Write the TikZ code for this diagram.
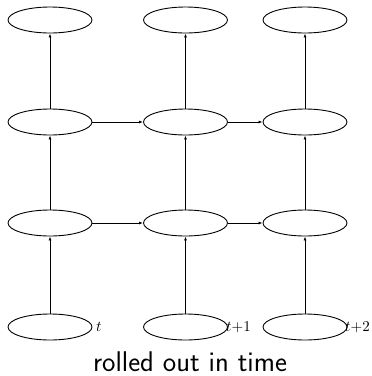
\documentclass[tikz,border=0pt]{standalone}
\usetikzlibrary{shapes.geometric,arrows.meta}
\begin{document}
\begin{tikzpicture}[x=1pt,y=-1pt,
  cell/.style={draw,ellipse,line width=0.9pt,minimum width=84pt,minimum height=26pt,inner sep=0pt},
  conn/.style={-{Latex[length=4pt,width=3pt]},line width=0.9pt},
  lab/.style={inner sep=0pt,anchor=west}]
\useasboundingbox (0,0) rectangle (372,376);
\node[cell] (a1) at (50,20) {};
\node[cell] (b1) at (185.5,20) {};
\node[cell] (c1) at (305,20) {};
\node[cell] (a2) at (50,122) {};
\node[cell] (b2) at (185.5,122) {};
\node[cell] (c2) at (305,122) {};
\node[cell] (a3) at (50,223) {};
\node[cell] (b3) at (185.5,223) {};
\node[cell] (c3) at (305,223) {};
\node[cell] (a4) at (50,327) {};
\node[cell] (b4) at (185.5,327) {};
\node[cell] (c4) at (305,327) {};
\node[lab] (la) at (96,327) {\scalebox{1.5}{$t$}};
\node[lab] (lb) at (226,327) {\scalebox{1.5}{$t{+}1$}};
\node[lab] (lc) at (345,327) {\scalebox{1.5}{$t{+}2$}};
\node[font=\sffamily\fontsize{28.5}{33}\selectfont,inner sep=0pt,anchor=base] (cap) at (190,371) {rolled out in time};
\foreach \c in {a,b,c}{
  \draw[conn] (\c4) -- (\c3);
  \draw[conn] (\c3) -- (\c2);
  \draw[conn] (\c2) -- (\c1);
}
\foreach \r in {2,3}{
  \draw[conn] (a\r) -- (b\r);
  \draw[conn] (b\r) -- (c\r);
}
\end{tikzpicture}
\end{document}
